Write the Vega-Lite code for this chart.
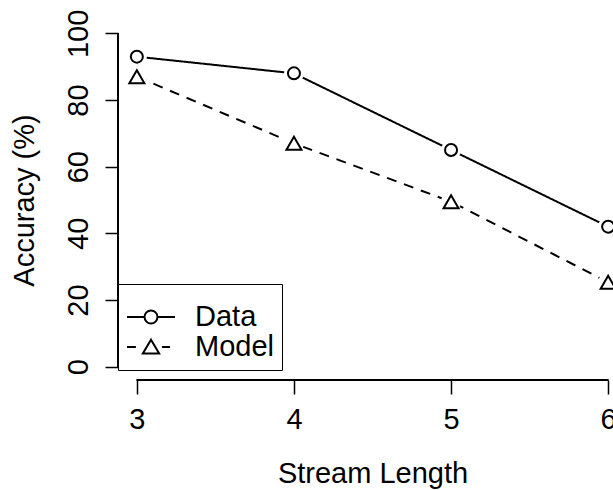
{
  "$schema": "https://vega.github.io/schema/vega-lite/v6.json",
  "autosize": {"type": "none"},
  "padding": {"left": 118, "top": 20, "right": 0, "bottom": 110},
  "width": 509,
  "height": 360,
  "background": "white",
  "data": {
    "values": [
      {"len": 3, "acc": 93, "series": "Data"},
      {"len": 4, "acc": 88, "series": "Data"},
      {"len": 5, "acc": 65, "series": "Data"},
      {"len": 6, "acc": 42, "series": "Data"},
      {"len": 3, "acc": 87, "series": "Model"},
      {"len": 4, "acc": 67, "series": "Model"},
      {"len": 5, "acc": 49.5, "series": "Model"},
      {"len": 6, "acc": 25.3, "series": "Model"}
    ]
  },
  "encoding": {
    "x": {
      "field": "len", "type": "quantitative",
      "scale": {"domain": [2.88, 6.12], "nice": false, "zero": false},
      "title": "Stream Length",
      "axis": {
        "values": [3, 4, 5, 6], "tickSize": 14, "labelPadding": 11,
        "titleY": 102, "titleBaseline": "alphabetic"
      }
    },
    "y": {
      "field": "acc", "type": "quantitative",
      "scale": {"domain": [-4, 104], "nice": false, "zero": false},
      "title": "Accuracy (%)",
      "axis": {
        "values": [0, 20, 40, 60, 80, 100], "tickSize": 13,
        "labelAngle": -90, "labelAlign": "center", "labelBaseline": "alphabetic", "labelPadding": 18,
        "titleAngle": -90, "titleAlign": "center", "titleBaseline": "alphabetic", "titleX": -85, "titleY": 180
      }
    }
  },
  "resolve": {"scale": {"shape": "independent"}, "legend": {"shape": "independent"}},
  "layer": [
    {
      "mark": {"type": "rule", "color": "black", "strokeWidth": 1.5},
      "encoding": {"x": {"datum": 2.88}, "y": {"datum": 0}, "y2": {"datum": 100}}
    },
    {
      "mark": {"type": "rule", "color": "black", "strokeWidth": 1.5},
      "encoding": {"y": {"datum": -4}, "x": {"datum": 3}, "x2": {"datum": 6}}
    },
    {
      "mark": {"type": "line", "color": "black", "strokeWidth": 2},
      "encoding": {
        "detail": {"field": "series"},
        "strokeDash": {
          "field": "series", "type": "nominal",
          "scale": {"range": [[1, 0], [10, 8]]},
          "legend": null
        }
      }
    },
    {
      "mark": {"type": "point", "filled": true, "shape": "circle", "color": "white", "opacity": 1, "size": 400},
      "encoding": {}
    },
    {
      "mark": {"type": "point", "filled": false, "color": "black", "opacity": 1, "strokeWidth": 2},
      "encoding": {
        "size": {
          "field": "series", "type": "ordinal",
          "scale": {"range": [144, 225]},
          "legend": null
        },
        "shape": {
          "field": "series", "type": "nominal",
          "scale": {"range": ["circle", "triangle-up"]},
          "legend": null
        }
      }
    },
    {
      "mark": {"type": "point", "filled": false, "color": "black", "opacity": 0, "strokeWidth": 2},
      "encoding": {
        "shape": {
          "field": "series", "type": "nominal",
          "scale": {
            "domain": ["Data", "Model"],
            "range": [
              "M-1,0L-0.27,0M0.27,0L1,0M-0.27,0A0.27,0.27,0,1,1,0.27,0A0.27,0.27,0,1,1,-0.27,0",
              "M-1,0L-0.63,0M0.46,0L0.79,0M0,-0.3L0.34,0.27L-0.34,0.27Z"
            ]
          },
          "legend": {
            "title": " ", "titleFontSize": 10, "titlePadding": 0,
            "orient": "none", "legendX": 0, "legendY": 264,
            "strokeColor": "black", "fillColor": "white", "cornerRadius": 0,
            "padding": 8, "clipHeight": 30, "rowPadding": 0,
            "labelOffset": 19, "labelFontSize": 29, "labelFont": "Liberation Sans", "labelColor": "black",
            "symbolSize": 2304, "symbolStrokeWidth": 2, "symbolStrokeColor": "black", "symbolFillColor": "transparent", "symbolOpacity": 1
          }
        }
      }
    }
  ],
  "config": {
    "view": {"stroke": null},
    "font": "Liberation Sans",
    "axis": {
      "domain": false, "grid": false, "ticks": true,
      "tickColor": "black", "tickWidth": 1.5,
      "labelFont": "Liberation Sans", "labelFontSize": 29, "labelColor": "black",
      "labelFlush": false, "labelOverlap": false, "labelBound": false,
      "titleFont": "Liberation Sans", "titleFontSize": 29, "titleFontWeight": "normal", "titleColor": "black"
    }
  }
}
